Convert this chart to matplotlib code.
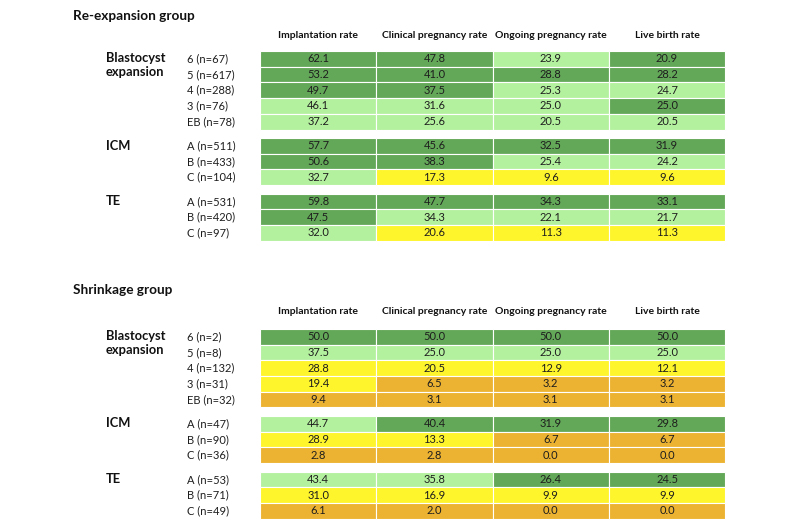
import matplotlib
matplotlib.use("Agg")
import matplotlib.pyplot as plt
from matplotlib.patches import Rectangle

"""Heat-table of pregnancy outcome rates for re-expansion and shrinkage groups"""

columns = ["Implantation rate", "Clinical pregnancy rate",
           "Ongoing pregnancy rate", "Live birth rate"]

group_names = ["Blastocyst\nexpansion", "ICM", "TE"]

# Re-expansion group
re_title = "Re-expansion group"
re_rows = [
    ["6 (n=67)", "5 (n=617)", "4 (n=288)", "3 (n=76)", "EB (n=78)"],
    ["A (n=511)", "B (n=433)", "C (n=104)"],
    ["A (n=531)", "B (n=420)", "C (n=97)"],
]
re_values = [
    [[62.1, 47.8, 23.9, 20.9],
     [53.2, 41.0, 28.8, 28.2],
     [49.7, 37.5, 25.3, 24.7],
     [46.1, 31.6, 25.0, 25.0],
     [37.2, 25.6, 20.5, 20.5]],
    [[57.7, 45.6, 32.5, 31.9],
     [50.6, 38.3, 25.4, 24.2],
     [32.7, 17.3, 9.6, 9.6]],
    [[59.8, 47.7, 34.3, 33.1],
     [47.5, 34.3, 22.1, 21.7],
     [32.0, 20.6, 11.3, 11.3]],
]
# colour class of each cell: 3 dark green, 2 light green, 1 yellow, 0 orange
re_levels = [
    [[3, 3, 2, 3],
     [3, 3, 3, 3],
     [3, 3, 2, 2],
     [2, 2, 2, 3],
     [2, 2, 2, 2]],
    [[3, 3, 3, 3],
     [3, 3, 2, 2],
     [2, 1, 1, 1]],
    [[3, 3, 3, 3],
     [3, 2, 2, 2],
     [2, 1, 1, 1]],
]

# Shrinkage group
sh_title = "Shrinkage group"
sh_rows = [
    ["6 (n=2)", "5 (n=8)", "4 (n=132)", "3 (n=31)", "EB (n=32)"],
    ["A (n=47)", "B (n=90)", "C (n=36)"],
    ["A (n=53)", "B (n=71)", "C (n=49)"],
]
sh_values = [
    [[50.0, 50.0, 50.0, 50.0],
     [37.5, 25.0, 25.0, 25.0],
     [28.8, 20.5, 12.9, 12.1],
     [19.4, 6.5, 3.2, 3.2],
     [9.4, 3.1, 3.1, 3.1]],
    [[44.7, 40.4, 31.9, 29.8],
     [28.9, 13.3, 6.7, 6.7],
     [2.8, 2.8, 0.0, 0.0]],
    [[43.4, 35.8, 26.4, 24.5],
     [31.0, 16.9, 9.9, 9.9],
     [6.1, 2.0, 0.0, 0.0]],
]
sh_levels = [
    [[3, 3, 3, 3],
     [2, 2, 2, 2],
     [1, 1, 1, 1],
     [1, 0, 0, 0],
     [0, 0, 0, 0]],
    [[2, 3, 3, 3],
     [1, 1, 0, 0],
     [0, 0, 0, 0]],
    [[2, 2, 3, 3],
     [1, 1, 1, 1],
     [0, 0, 0, 0]],
]

level_colors = {3: "#63a858", 2: "#b4f19f", 1: "#fff52c", 0: "#ecb231"}
text_color = "#1e1e1e"

# layout in pixel units
col_left = 260
col_w = 116.3
row_h = 15.7
group_gap = 8.5
row_label_x = 187
group_label_x = 106
title_x = 73


def draw_section(ax, title, rows, values, levels, title_y, header_y, top):
    ax.text(title_x, title_y, title, fontsize=9.8, fontweight="bold",
            family="Lato", color="#111111", va="baseline", ha="left")
    for j, col in enumerate(columns):
        ax.text(col_left + col_w * (j + 0.5), header_y, col, fontsize=7.5,
                fontweight="bold", family="Lato", color="#111111",
                ha="center", va="baseline")

    y = top
    for g, name in enumerate(group_names):
        # group label sits on the first row, multi-line labels go downward
        for k, line in enumerate(name.split("\n")):
            ax.text(group_label_x, y + 11.5 + 14 * k, line, fontsize=9.3,
                    fontweight="bold", family="Lato", color="#111111",
                    ha="left", va="baseline")
        for i, label in enumerate(rows[g]):
            yc = y + row_h / 2
            ax.text(row_label_x, yc, label, fontsize=8, family="Lato",
                    color=text_color, ha="left", va="center")
            for j in range(len(columns)):
                x = col_left + col_w * j
                ax.add_patch(Rectangle((x, y), col_w, row_h,
                                       facecolor=level_colors[levels[g][i][j]],
                                       edgecolor="white", linewidth=0.8))
                ax.text(x + col_w / 2, yc, f"{values[g][i][j]:.1f}",
                        fontsize=8, family="Lato", color=text_color,
                        ha="center", va="center")
            y += row_h
        y += group_gap


def main():
    fig = plt.figure(figsize=(8, 5.3), dpi=100)
    ax = fig.add_axes([0, 0, 1, 1])
    ax.set_xlim(0, 800)
    ax.set_ylim(530, 0)
    ax.axis("off")

    draw_section(ax, re_title, re_rows, re_values, re_levels, 20, 38.5, 51)
    draw_section(ax, sh_title, sh_rows, sh_values, sh_levels, 294.5, 313.5, 329)

    fig.savefig("out.png", dpi=100, facecolor="white")


if __name__ == "__main__":
    main()
